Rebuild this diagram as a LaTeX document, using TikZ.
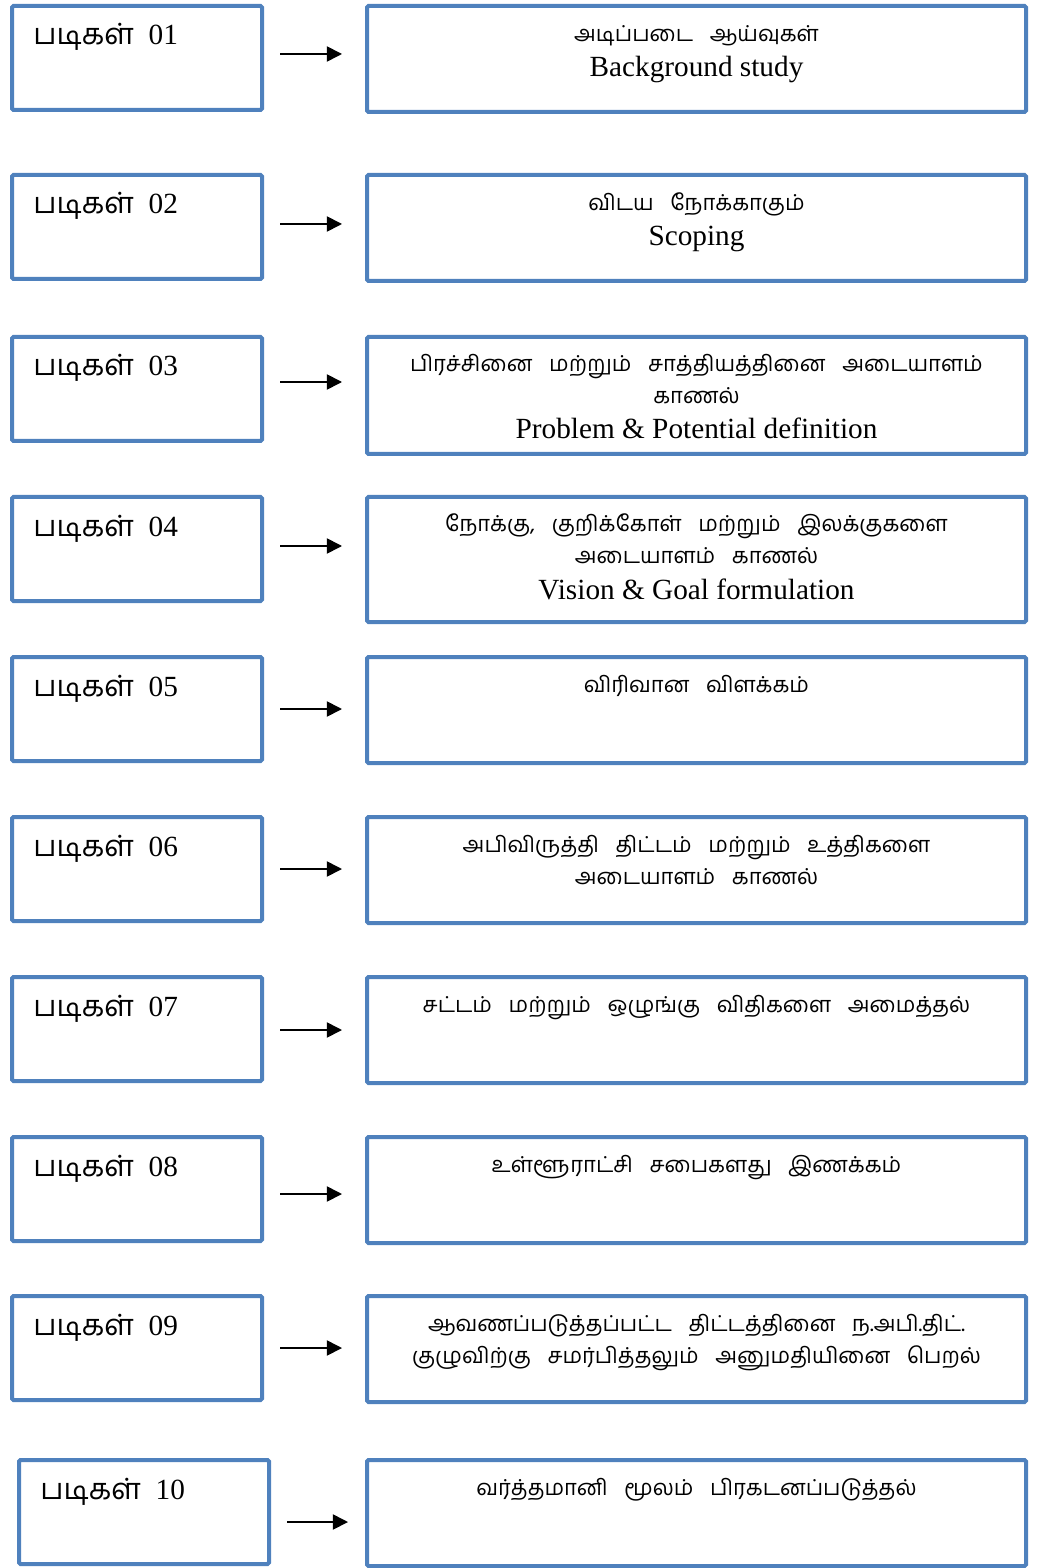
\documentclass[tikz,border=0pt]{standalone}
\usepackage{fontspec}
\setmainfont{Liberation Serif}
\newfontfamily\tamil[Script=Tamil]{Hind Madurai}
\newfontfamily\tamiltext[Script=Tamil, WordSpace=3.1, Scale=0.75]{Hind Madurai}
\usetikzlibrary{positioning, arrows.meta}
\definecolor{boxblue}{HTML}{4F81BD}
\newlength\px
\setlength\px{0.41pt}

\begin{document}
\begin{tikzpicture}[
    stepbox/.style = {draw=boxblue, line width=4\px, rounded corners=1.5\px, inner sep=0pt, minimum width = #1, minimum height = 104\px},
    stepbox/.default=250\px,
    stepname/.style = {anchor=base west, inner sep=0pt, font=\fontsize{12pt}{13pt}\selectfont},
    steptext/.style = {anchor=base, inner sep=0pt, align=center, font=\fontsize{12pt}{13pt}\selectfont},
    flow/.style = {->, line width=1.7\px, shorten <=16\px, shorten >=23\px},
    >={Triangle[length=6.2pt, width=6.2pt]}
  ]

  \useasboundingbox (0,0) rectangle (1036\px,-1568\px);

  % left column: the steps
  \node[stepbox, anchor=north west] (S1) at (10\px,-4\px) {};
  \node[stepbox, below=61\px of S1] (S2) {};
  \node[stepbox, below=54\px of S2] (S3) {};
  \node[stepbox, below=52\px of S3] (S4) {};
  \node[stepbox, below=52\px of S4] (S5) {};
  \node[stepbox, below=52\px of S5] (S6) {};
  \node[stepbox, below=52\px of S6] (S7) {};
  \node[stepbox, below=52\px of S7] (S8) {};
  \node[stepbox, below=51\px of S8] (S9) {};
  \node[stepbox, below=56\px of S9, xshift=7\px] (S10) {};

  \node[below right=41\px and 23\px of S1.north west, stepname] (S1t) {{\tamil படிகள்}\hspace{0.5em}01};
  \node[below right=41\px and 23\px of S2.north west, stepname] (S2t) {{\tamil படிகள்}\hspace{0.5em}02};
  \node[below right=41\px and 23\px of S3.north west, stepname] (S3t) {{\tamil படிகள்}\hspace{0.5em}03};
  \node[below right=41\px and 23\px of S4.north west, stepname] (S4t) {{\tamil படிகள்}\hspace{0.5em}04};
  \node[below right=41\px and 23\px of S5.north west, stepname] (S5t) {{\tamil படிகள்}\hspace{0.5em}05};
  \node[below right=41\px and 23\px of S6.north west, stepname] (S6t) {{\tamil படிகள்}\hspace{0.5em}06};
  \node[below right=41\px and 23\px of S7.north west, stepname] (S7t) {{\tamil படிகள்}\hspace{0.5em}07};
  \node[below right=41\px and 23\px of S8.north west, stepname] (S8t) {{\tamil படிகள்}\hspace{0.5em}08};
  \node[below right=41\px and 23\px of S9.north west, stepname] (S9t) {{\tamil படிகள்}\hspace{0.5em}09};
  \node[below right=41\px and 23\px of S10.north west, stepname] (S10t) {{\tamil படிகள்}\hspace{0.5em}10};

  % right column: what each step does
  \node[stepbox=659\px, minimum height=106\px, right=101\px of S1.north east, anchor=north west] (D1) {};
  \node[stepbox=659\px, minimum height=106\px, anchor=north west] (D2) at (S2.north -| D1.west) {};
  \node[stepbox=659\px, minimum height=117\px, anchor=north west] (D3) at (S3.north -| D1.west) {};
  \node[stepbox=659\px, minimum height=125\px, anchor=north west] (D4) at (S4.north -| D1.west) {};
  \node[stepbox=659\px, minimum height=106\px, anchor=north west] (D5) at (S5.north -| D1.west) {};
  \node[stepbox=659\px, minimum height=106\px, anchor=north west] (D6) at (S6.north -| D1.west) {};
  \node[stepbox=659\px, minimum height=106\px, anchor=north west] (D7) at (S7.north -| D1.west) {};
  \node[stepbox=659\px, minimum height=106\px, anchor=north west] (D8) at (S8.north -| D1.west) {};
  \node[stepbox=659\px, minimum height=106\px, anchor=north west] (D9) at (S9.north -| D1.west) {};
  \node[stepbox=659\px, minimum height=106\px, anchor=north west] (D10) at (S10.north -| D1.west) {};

  % base of a text node sits on its last line
  \node[below=73\px of D1.north, steptext] (D1t) {{\tamiltext அடிப்படை ஆய்வுகள்}\\[4\px] Background study};
  \node[below=73\px of D2.north, steptext] (D2t) {{\tamiltext விடய நோக்காகும்}\\[4\px] Scoping};
  \node[below=104\px of D3.north, steptext] (D3t) {{\tamiltext பிரச்சினை மற்றும் சாத்தியத்தினை அடையாளம்}\\ {\tamiltext காணல்}\\[4\px] Problem \& Potential definition};
  \node[below=104\px of D4.north, steptext] (D4t) {{\tamiltext நோக்கு, குறிக்கோள் மற்றும் இலக்குகளை}\\ {\tamiltext அடையாளம் காணல்}\\[4\px] Vision \& Goal formulation};
  \node[below=37\px of D5.north, steptext] (D5t) {{\tamiltext விரிவான விளக்கம்}};
  \node[below=69\px of D6.north, steptext] (D6t) {{\tamiltext அபிவிருத்தி திட்டம் மற்றும் உத்திகளை}\\ {\tamiltext அடையாளம் காணல்}};
  \node[below=37\px of D7.north, steptext] (D7t) {{\tamiltext சட்டம் மற்றும் ஒழுங்கு விதிகளை அமைத்தல்}};
  \node[below=37\px of D8.north, steptext] (D8t) {{\tamiltext உள்ளூராட்சி சபைகளது இணக்கம்}};
  \node[below=69\px of D9.north, steptext] (D9t) {{\tamiltext ஆவணப்படுத்தப்பட்ட திட்டத்தினை ந.அபி.திட்.}\\ {\tamiltext குழுவிற்கு சமர்பித்தலும் அனுமதியினை பெறல்}};
  \node[below=37\px of D10.north, steptext] (D10t) {{\tamiltext வர்த்தமானி மூலம் பிரகடனப்படுத்தல்}};

  \draw[flow] ([yshift=4\px]S1.east) -- ([yshift=4\px]S1.east -| D1.west);
  \draw[flow] ([yshift=3\px]S2.east) -- ([yshift=3\px]S2.east -| D2.west);
  \draw[flow] ([yshift=7\px]S3.east) -- ([yshift=7\px]S3.east -| D3.west);
  \draw[flow] ([yshift=3\px]S4.east) -- ([yshift=3\px]S4.east -| D4.west);
  \draw[flow] (S5.east) -- (S5.east -| D5.west);
  \draw[flow] (S6.east) -- (S6.east -| D6.west);
  \draw[flow] ([yshift=-1\px]S7.east) -- ([yshift=-1\px]S7.east -| D7.west);
  \draw[flow] ([yshift=-5\px]S8.east) -- ([yshift=-5\px]S8.east -| D8.west);
  \draw[flow] (S9.east) -- (S9.east -| D9.west);
  \draw[flow, shorten >=17\px] ([yshift=-10\px]S10.east) -- ([yshift=-10\px]S10.east -| D10.west);

\end{tikzpicture}
\end{document}
